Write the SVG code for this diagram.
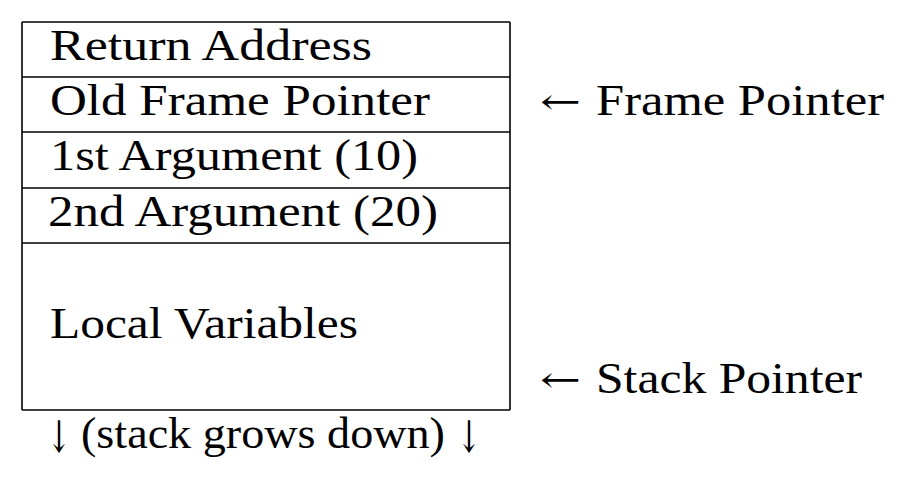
<svg xmlns="http://www.w3.org/2000/svg" width="916" height="478" viewBox="0 0 916 478">
<style>
  .t { font-family: "Liberation Serif", "DejaVu Serif", serif; font-size: 44px; fill: #000; }
  .a { font-family: "DejaVu Serif", "Liberation Serif", serif; font-size: 36px; fill: #000; }
  .d { font-family: "DejaVu Serif", "Liberation Serif", serif; font-size: 44px; fill: #000; }
  .ln { stroke: #000; stroke-width: 1.6; fill: none; }
</style>
<rect width="916" height="478" fill="#fff"/>
<g id="connectors">
  <line class="ln" x1="22" y1="22" x2="22" y2="410"/>
  <line class="ln" x1="510" y1="22" x2="510" y2="410"/>
</g>
<g id="row-return-address">
  <line class="ln" x1="22" y1="22" x2="510" y2="22"/>
  <text class="t" x="50" y="60" textLength="322" lengthAdjust="spacingAndGlyphs">Return Address</text>
</g>
<g id="row-old-frame-pointer">
  <line class="ln" x1="22" y1="77" x2="510" y2="77"/>
  <text class="t" x="50" y="115" textLength="380" lengthAdjust="spacingAndGlyphs">Old Frame Pointer</text>
</g>
<g id="row-arg1">
  <line class="ln" x1="22" y1="132" x2="510" y2="132"/>
  <text class="t" x="50" y="170" textLength="368" lengthAdjust="spacingAndGlyphs">1st Argument (10)</text>
</g>
<g id="row-arg2">
  <line class="ln" x1="22" y1="188" x2="510" y2="188"/>
  <text class="t" x="48" y="226" textLength="390" lengthAdjust="spacingAndGlyphs">2nd Argument (20)</text>
</g>
<g id="row-locals">
  <line class="ln" x1="22" y1="243" x2="510" y2="243"/>
  <text class="t" x="50" y="338" textLength="308" lengthAdjust="spacingAndGlyphs">Local Variables</text>
  <line class="ln" x1="22" y1="410" x2="510" y2="410"/>
</g>
<g id="label-frame-pointer">
  <text class="a" x="540" y="114" textLength="41" lengthAdjust="spacingAndGlyphs">←</text>
  <text class="t" x="596" y="115" textLength="288" lengthAdjust="spacingAndGlyphs">Frame Pointer</text>
</g>
<g id="label-stack-pointer">
  <text class="a" x="540" y="392" textLength="41" lengthAdjust="spacingAndGlyphs">←</text>
  <text class="t" x="596" y="393" textLength="266" lengthAdjust="spacingAndGlyphs">Stack Pointer</text>
</g>
<g id="label-grows">
  <text class="d" x="47" y="452" textLength="24" lengthAdjust="spacingAndGlyphs">↓</text>
  <text class="t" x="81" y="448" textLength="364" lengthAdjust="spacingAndGlyphs">(stack grows down)</text>
  <text class="d" x="457" y="452" textLength="24" lengthAdjust="spacingAndGlyphs">↓</text>
</g>
</svg>
